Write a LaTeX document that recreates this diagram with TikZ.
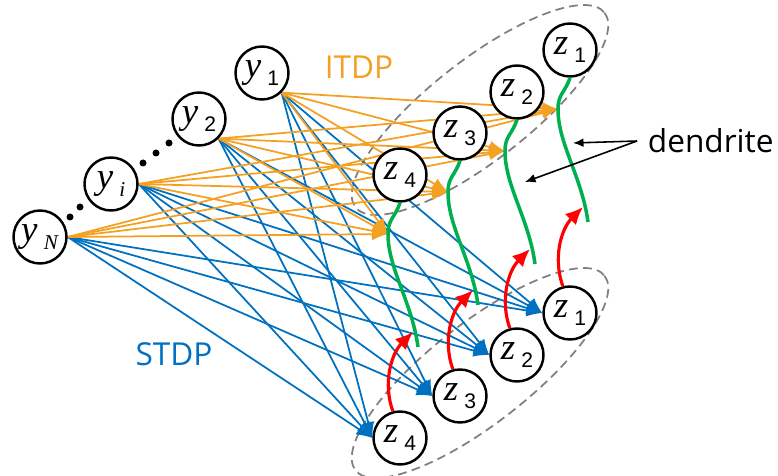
\documentclass[tikz,border=0pt]{standalone}
\usepackage{fontspec}
\setmainfont{Liberation Serif}
\setsansfont{Liberation Sans}
\newfontfamily\labelfont{Open Sans}
\usetikzlibrary{arrows.meta, backgrounds}

\definecolor{itdp}{RGB}{243,160,35}
\definecolor{stdp}{RGB}{0,112,192}
\definecolor{dendgreen}{RGB}{0,176,80}

% neuron label: letter with a lowered index
\newcommand{\nlab}[2]{\fontsize{21}{21}\selectfont\textit{#1}\,\raisebox{-0.5ex}{\fontsize{12}{12}\selectfont #2}}

\begin{document}
\begin{tikzpicture}[x=0.02cm, y=-0.02cm,
    neuron/.style={draw, circle, line width=1.4pt, fill=white, minimum size=1.06cm, inner sep=0pt},
    itdpline/.style={itdp, line width=1pt, -{Latex[length=9pt,width=7pt]}},
    stdpline/.style={stdp, line width=1pt, -{Latex[length=9pt,width=7pt]}},
    dend/.style={dendgreen, line width=2pt},
    spike/.style={red, line width=1.8pt, -{Latex[length=10pt,width=9pt]}},
    group/.style={gray, line width=1pt, dash pattern=on 5pt off 3pt},
    tag/.style={font=\labelfont\fontsize{18}{18}\selectfont}]

    \useasboundingbox (0,0) rectangle (778,476);

    % Input neurons
    \node[neuron] (y1) at (262,73) {\nlab{y}{\sffamily 1}};
    \node[neuron] (y2) at (199,119) {\nlab{y}{\sffamily 2}};
    \node[neuron] (yi) at (111,184) {\nlab{y}{\textit{i}}};
    \node[neuron] (yN) at (40,237) {\nlab{y}{\textit{N}}};
    \foreach \p in {(70,217),(80,207),(143,163),(156,153),(169,143)}
        \fill \p circle (3.5);

    % Output neurons (soma below, dendrite above)
    \foreach \k/\cx/\cy in {1/570/50, 2/517/92, 3/460/133, 4/400/175} {
        \node[neuron] (zt\k) at (\cx,\cy) {\nlab{z}{\sffamily\k}};
        \node[neuron] (zb\k) at (\cx,\cy+263) {\nlab{z}{\sffamily\k}};
        \coordinate (t\k) at (\cx-12,\cy+59);
        \coordinate (e\k) at (\cx+18,\cy+172);
        \coordinate (s\k) at (\cx+13,\cy+157);
    }

    % Synapses
    \begin{pgfonlayer}{background}
        \draw[group, rotate around={38:(480,110)}] (480,110) ellipse [x radius=158, y radius=50];
        \draw[group, rotate around={38:(480,373)}] (480,373) ellipse [x radius=158, y radius=50];
        \foreach \s in {y1.-45, y2.-45, yi.east, yN.east}
            \foreach \k in {1,...,4}
                \draw[stdpline] (\s) -- (zb\k.west);
        \foreach \s in {y1.-45, y2.-45, yi.east, yN.east}
            \foreach \k in {1,...,4}
                \draw[itdpline] (\s) -- (t\k);
    \end{pgfonlayer}

    % Dendrites and back-propagating spikes
    \foreach \k in {1,...,4} {
        \draw[dend] (zt\k.south) .. controls +(-5,15) and +(0,-15) .. (t\k)
            .. controls +(0,35) and +(-6,-45) .. (e\k);
        \draw[spike] (zb\k.105) .. controls +(-10,-28) and +(-22,22) .. (s\k);
    }

    % Labels
    \node[tag, text=itdp] (itdplab) at (359,67) {ITDP};
    \node[tag, text=stdp] (stdplab) at (174,354) {STDP};
    \node[tag, anchor=west, inner sep=6pt] (dlab) at (637,141) {dendrite};
    \coordinate (d1) at (573,143);
    \coordinate (d2) at (525,182);
    \draw[-{Latex[length=6pt,width=5pt]}, line width=0.9pt] (dlab.west) -- (d1);
    \draw[-{Latex[length=6pt,width=5pt]}, line width=0.9pt] (dlab.west) -- (d2);

\end{tikzpicture}
\end{document}
